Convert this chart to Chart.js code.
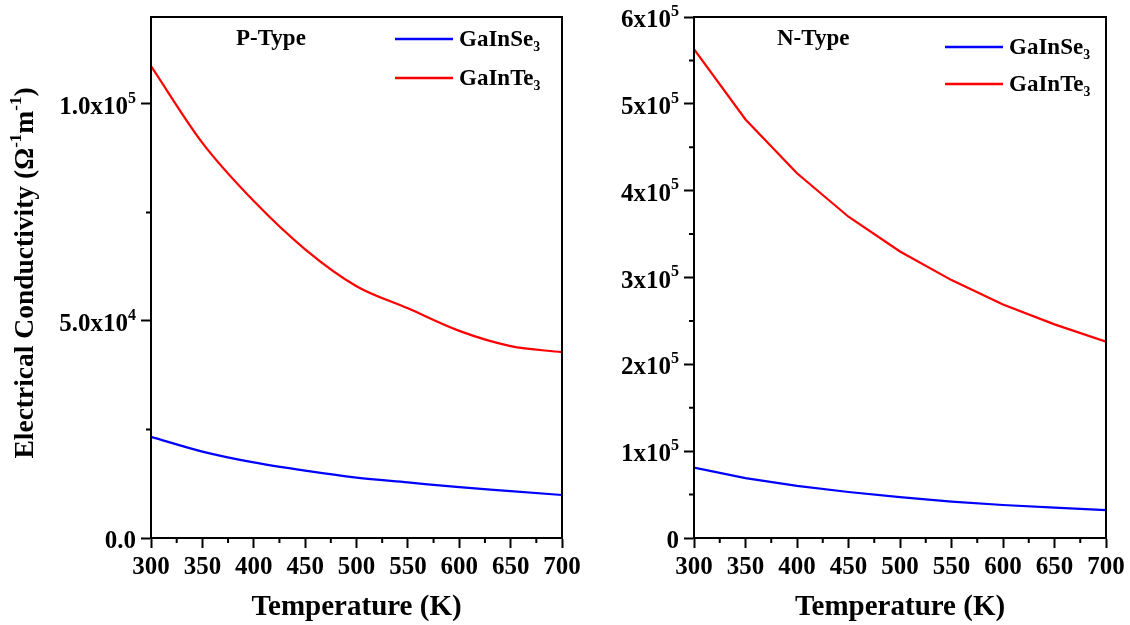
<!DOCTYPE html>
<html>
<head>
<meta charset="utf-8">
<title>Electrical conductivity vs temperature</title>
<script src="https://cdn.jsdelivr.net/npm/chart.js@4.4.0/dist/chart.umd.min.js"></script>
<style>
  body { margin: 0; background: #fff; }
  #wrap { position: relative; width: 1130px; height: 625px; }
  canvas { position: absolute; top: 0; }
  #pChart { left: 0; }
  #nChart { left: 570px; }
</style>
</head>
<body>
<div id="wrap">
  <canvas id="pChart" width="600" height="625"></canvas>
  <canvas id="nChart" width="560" height="625"></canvas>
</div>
<script>
// temperature grid (K)
const temps = [300, 350, 400, 450, 500, 550, 600, 650, 700];
const xTicks = [300, 350, 400, 450, 500, 550, 600, 650, 700];

// P-type conductivity (Ω⁻¹m⁻¹)
const pGaInSe3 = [23300, 19900, 17400, 15500, 13900, 12800, 11700, 10800, 9900];
const pGaInTe3 = [108700, 91000, 77600, 66500, 58000, 52900, 47700, 44200, 42800];
const pYTicks = [0, 50000, 100000];
const pYLabels = ["0.0", "5.0x10^4", "1.0x10^5"];

// N-type conductivity (Ω⁻¹m⁻¹)
const nGaInSe3 = [81000, 69000, 60000, 53000, 47000, 42000, 38000, 35000, 32000];
const nGaInTe3 = [563000, 482000, 420000, 370000, 330000, 297000, 269000, 246000, 226000];
const nYTicks = [0, 100000, 200000, 300000, 400000, 500000, 600000];
const nYLabels = ["0", "1x10^5", "2x10^5", "3x10^5", "4x10^5", "5x10^5", "6x10^5"];

const seriesNames = ["GaInSe₃", "GaInTe₃"];
const seriesColors = ["#0000ff", "#ff0000"];

const FONT = "'Liberation Serif', 'Times New Roman', serif";

// split "10^5" style strings into normal / superscript runs
function richParts(str) {
  const parts = [];
  const re = /\^(-?\d+)/g;
  let last = 0, m;
  while ((m = re.exec(str))) {
    if (m.index > last) parts.push({ t: str.slice(last, m.index), sup: false });
    parts.push({ t: m[1], sup: true });
    last = re.lastIndex;
  }
  if (last < str.length) parts.push({ t: str.slice(last), sup: false });
  return parts;
}

function drawRich(ctx, str, x, y, size, align) {
  const parts = richParts(str);
  const supSize = Math.round(size * 0.62);
  const fontFor = p => "bold " + (p.sup ? supSize : size) + "px " + FONT;
  let total = 0;
  parts.forEach(p => {
    ctx.font = fontFor(p);
    p.w = ctx.measureText(p.t).width;
    total += p.w;
  });
  let cx = align === "right" ? x - total : align === "center" ? x - total / 2 : x;
  ctx.textAlign = "left";
  ctx.textBaseline = "alphabetic";
  parts.forEach(p => {
    ctx.font = fontFor(p);
    ctx.fillText(p.t, cx, p.sup ? y - size * 0.45 : y);
    cx += p.w;
  });
}

// box frame, minor ticks, y tick labels, y title, panel label and legend
const decor = {
  id: "decor",
  afterDraw(chart, args, opts) {
    const ctx = chart.ctx;
    const a = chart.chartArea;
    const xs = chart.scales.x, ys = chart.scales.y;
    ctx.save();
    ctx.strokeStyle = "#000";
    ctx.lineWidth = 2;
    ctx.strokeRect(a.left, a.top, a.right - a.left, a.bottom - a.top);

    // minor ticks halfway between the major ones
    ctx.beginPath();
    for (let v = xs.min + opts.xMinor; v < xs.max; v += opts.xMinor * 2) {
      const px = xs.getPixelForValue(v);
      ctx.moveTo(px, a.bottom);
      ctx.lineTo(px, a.bottom + 5);
    }
    for (let v = opts.yMinor; v < ys.max; v += opts.yMinor * 2) {
      const py = ys.getPixelForValue(v);
      ctx.moveTo(a.left, py);
      ctx.lineTo(a.left - 5, py);
    }
    ctx.stroke();

    ctx.fillStyle = "#000";
    // y tick labels with raised exponents
    ys.ticks.forEach((t, i) => {
      drawRich(ctx, opts.yLabels[i], a.left - 15, ys.getPixelForValue(t.value) + 10, 25, "right");
    });

    if (opts.yTitle) {
      ctx.save();
      ctx.translate(33, 273);
      ctx.rotate(-Math.PI / 2);
      drawRich(ctx, opts.yTitle, 0, 0, 27.5, "center");
      ctx.restore();
    }

    ctx.font = "bold 23px " + FONT;
    ctx.textAlign = "left";
    ctx.textBaseline = "middle";
    ctx.fillText(opts.label, a.left + opts.labelX, opts.labelY);

    // legend
    chart.data.datasets.forEach((ds, i) => {
      const y = opts.legendY + i * opts.legendGap;
      ctx.strokeStyle = ds.borderColor;
      ctx.lineWidth = 2.5;
      ctx.beginPath();
      ctx.moveTo(a.left + opts.legendX, y);
      ctx.lineTo(a.left + opts.legendX + 58, y);
      ctx.stroke();
      ctx.fillStyle = "#000";
      ctx.font = "bold 23px " + FONT;
      ctx.textAlign = "left";
      ctx.textBaseline = "middle";
      ctx.fillText(ds.label, a.left + opts.legendX + 64, y + 1);
    });
    ctx.restore();
  }
};

function makeChart(id, sets, yMax, yTicks, yWidth, padRight, deco) {
  return new Chart(document.getElementById(id), {
    type: "line",
    data: {
      datasets: sets.map((vals, i) => ({
        label: seriesNames[i],
        data: temps.map((t, j) => ({ x: t, y: vals[j] })),
        borderColor: seriesColors[i],
        borderWidth: 2.2,
        pointRadius: 0,
        tension: 0,
        cubicInterpolationMode: deco.smooth ? "monotone" : "default"
      }))
    },
    options: {
      responsive: false,
      animation: false,
      devicePixelRatio: 1,
      layout: { padding: { top: 17, right: padRight, bottom: 0, left: 0 } },
      plugins: {
        legend: { display: false },
        tooltip: { enabled: false },
        decor: deco
      },
      scales: {
        x: {
          type: "linear",
          min: 300,
          max: 700,
          afterBuildTicks: s => { s.ticks = xTicks.map(v => ({ value: v })); },
          afterFit: s => { s.height = 87; },
          grid: { drawOnChartArea: false, tickLength: 10, tickWidth: 2, tickColor: "#000" },
          border: { width: 2, color: "#000" },
          ticks: { color: "#000", padding: 5, maxRotation: 0, font: { family: FONT, size: 25, weight: "bold" } },
          title: {
            display: true,
            text: "Temperature (K)",
            color: "#000",
            padding: { top: 0, bottom: 0 },
            font: { family: FONT, size: 29, weight: "bold" }
          }
        },
        y: {
          type: "linear",
          min: 0,
          max: yMax,
          afterBuildTicks: s => { s.ticks = yTicks.map(v => ({ value: v })); },
          afterFit: s => { s.width = yWidth; s.paddingTop = 0; s.paddingBottom = 0; },
          grid: { drawOnChartArea: false, tickLength: 10, tickWidth: 2, tickColor: "#000" },
          border: { width: 2, color: "#000" },
          ticks: { display: false }
        }
      }
    },
    plugins: [decor]
  });
}

makeChart("pChart", [pGaInSe3, pGaInTe3], 120000, pYTicks, 151, 38,
  { xMinor: 25, yMinor: 25000, yLabels: pYLabels,
    yTitle: "Electrical Conductivity (Ω^-1m^-1)",
    label: "P-Type", labelX: 85, labelY: 39,
    legendX: 244, legendY: 39, legendGap: 39, smooth: true });

makeChart("nChart", [nGaInSe3, nGaInTe3], 600000, nYTicks, 124, 24,
  { xMinor: 25, yMinor: 50000, yLabels: nYLabels, yTitle: "",
    label: "N-Type", labelX: 83, labelY: 39,
    legendX: 251, legendY: 47, legendGap: 37, smooth: false });
</script>
</body>
</html>
